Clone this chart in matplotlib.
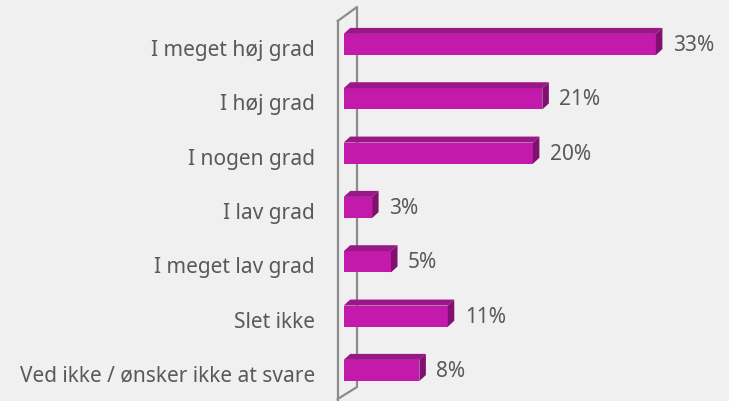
import matplotlib.pyplot as plt
from matplotlib.patches import Polygon
from matplotlib.transforms import ScaledTranslation

categories = ["I meget høj grad", "I høj grad", "I nogen grad", "I lav grad",
              "I meget lav grad", "Slet ikke", "Ved ikke / ønsker ikke at svare"]
values = [33, 21, 20, 3, 5, 11, 8]
labels = ["33%", "21%", "20%", "3%", "5%", "11%", "8%"]

bg = "#eff0ef"
front = "#c41aac"
top_col = "#9a1787"
side_col = "#80116f"
text_col = "#595959"

plt.rcParams['font.family'] = ['Noto Sans', 'DejaVu Sans']

fig = plt.figure(figsize=(7.29, 4.02), dpi=100, facecolor=bg)
W, H = 729, 402
x0, px_per = 343.7, 9.46      # pixel of 0 %, pixels per %
y_first, y_step = 45.5, 54.33  # pixel of first bar centre, spacing
xmax = 40
ax = fig.add_axes([x0 / W, 1 - (y_first + 6.5 * y_step) / H,
                   xmax * px_per / W, 7 * y_step / H])
ax.set_facecolor(bg)
ax.set_xlim(0, xmax)
ax.set_ylim(6.5, -0.5)
ax.axis("off")

# depth of the 3D look, in data units
dx = 6.5 / px_per
dy = 6.0 / y_step
bh = 0.39

ypos = list(range(len(values)))
ax.barh(ypos, values, height=bh, color=front, zorder=3)
for y, v in zip(ypos, values):
    t = y - bh / 2
    b = y + bh / 2
    ax.add_patch(Polygon([(0, t), (v, t), (v + dx, t - dy), (dx, t - dy)],
                         closed=True, color=top_col, zorder=3, lw=0))
    ax.add_patch(Polygon([(v, t), (v + dx, t - dy), (v + dx, b - dy), (v, b)],
                         closed=True, color=side_col, zorder=3, lw=0))

# back wall outline
wx0 = (337.7 - x0) / px_per
wx1 = (357.0 - x0) / px_per
def py(p):
    return (p - y_first) / y_step
ax.plot([wx0, wx0], [py(22), py(405)], color="#8c8c8c", lw=1.6, clip_on=False, zorder=2)
ax.plot([wx0, wx1, wx1, wx0], [py(22), py(8), py(388), py(400)],
        color="#8c8c8c", lw=1.6, clip_on=False, zorder=2)

# category labels
lab_tr = ax.get_yaxis_transform() + ScaledTranslation(-(x0 - 315) / 100, -5 / 100, fig.dpi_scale_trans)
for y, c in zip(ypos, categories):
    ax.text(0, y, c, transform=lab_tr, ha="right", va="center",
            fontsize=15, color=text_col)

# value labels
for y, v, l in zip(ypos, values, labels):
    ax.text(v, y, l, ha="left", va="center", fontsize=15, color=text_col,
            transform=ax.transData + ScaledTranslation(17 / 100, 0, fig.dpi_scale_trans))

fig.savefig("out.png", dpi=100, facecolor=bg)
